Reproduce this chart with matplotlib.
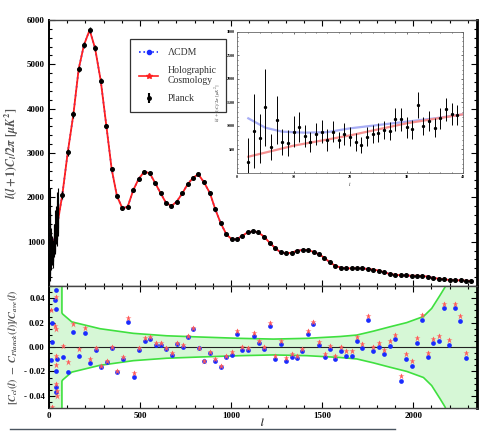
import matplotlib
matplotlib.use('Agg')
import matplotlib.pyplot as plt
from matplotlib.lines import Line2D
from matplotlib.ticker import MultipleLocator, FixedLocator
import numpy as np

# ---- data ----
# Planck binned points (main panel)
planck_l = [73, 103, 134, 163, 192, 223, 253, 284, 315, 344, 373, 403, 432, 463, 492,
            523, 553, 584, 613, 642, 672, 701, 732, 761, 791, 820, 851, 884, 913, 943,
            974, 1003, 1031, 1062, 1091, 1122, 1149, 1181, 1212, 1241, 1272, 1302, 1333,
            1362, 1393, 1424, 1453, 1483, 1512, 1541, 1572, 1602, 1631, 1662, 1691, 1720,
            1750, 1781, 1812, 1841, 1871, 1902, 1931, 1960, 1992, 2021, 2050, 2081, 2110,
            2140, 2171, 2200, 2230, 2261, 2290, 2319]
planck_D = [2053, 3016, 3874, 4896, 5437, 5775, 5363, 4632, 3610, 2640, 2030, 1753, 1789,
            2166, 2414, 2579, 2543, 2317, 2091, 1879, 1805, 1902, 2091, 2294, 2443, 2520,
            2339, 2091, 1730, 1415, 1166, 1054, 1054, 1135, 1211, 1234, 1211, 1112, 973,
            860, 756, 738, 751, 796, 812, 812, 767, 715, 638, 535, 458, 413, 399, 399, 399,
            399, 384, 372, 345, 309, 271, 255, 241, 237, 232, 232, 226, 210, 180, 165, 151,
            135, 129, 129, 120, 113]
planck_err = [90, 85, 80, 75, 70, 68, 65, 60, 55, 50, 45, 42, 40, 40, 38,
              36, 35, 34, 32, 30, 30, 30, 30, 30, 30, 28, 28, 28, 26, 25,
              25, 24, 24, 24, 23, 23, 22, 22, 22, 21, 20, 20, 20,
              20, 20, 20, 19, 19, 19, 18, 18, 18, 18, 18, 18, 18,
              18, 18, 18, 18, 18, 18, 18, 18, 18, 18, 18, 18, 18,
              18, 18, 18, 18, 18, 18, 18]

# Planck low-l points (inset and main panel)
low_l = list(range(2, 40))
low_D = [240, 894, 738, 1398, 560, 1128, 666, 645, 879, 985, 787, 666, 830, 879, 702,
         879, 702, 830, 773, 666, 596, 773, 830, 858, 915, 900, 1142, 1142, 972, 930,
         1447, 1000, 1114, 965, 1163, 1355, 1256, 1234]
low_err = [500, 790, 520, 820, 280, 510, 280, 280, 330, 320, 240, 210, 240, 240, 230,
           230, 180, 230, 200, 190, 180, 200, 200, 200, 190, 190, 250, 250, 220, 200,
           270, 200, 210, 200, 220, 250, 230, 210]
# extra unbinned points only seen in main panel
mid_l = [40, 41, 42, 43, 44, 45, 46, 47, 48, 49]
mid_D = [1300, 1450, 1200, 1550, 1400, 1700, 1350, 1600, 1750, 1500]
mid_err = [320, 350, 300, 380, 330, 420, 320, 400, 450, 380]

# theory curves at low l (inset)
holo_low_l = [2, 10, 20, 30, 40]
holo_low_D = [346, 581, 800, 1057, 1248]
lcdm_low_l = [2, 5, 8, 12, 16, 20, 25, 30, 35, 40]
lcdm_low_D = [1163, 964, 879, 858, 869, 950, 1021, 1092, 1163, 1248]

# residuals
res_l = [9, 15, 15, 33, 37, 38, 42, 38, 38, 40,
         75, 106, 134, 165, 196, 225, 256, 285, 316, 346, 375, 406, 436, 465, 496,
         525, 555, 586, 615, 645, 676, 705, 734, 765, 793, 824, 853, 882, 913, 943,
         972, 1003, 1032, 1062, 1093, 1124, 1153, 1183, 1214, 1243, 1272, 1303, 1332,
         1362, 1391, 1421, 1452, 1481, 1513, 1542, 1573, 1602, 1631, 1662, 1691, 1720,
         1751, 1781, 1810, 1841, 1870, 1900, 1931, 1960, 1991, 2020, 2049, 2080, 2109,
         2139, 2168, 2197, 2228, 2257, 2288]
res_lcdm = [-0.0106, 0.0044, 0.0199, 0.0384, 0.031, 0.047, -0.010, -0.020, -0.033, -0.037,
            -0.0079, -0.0207, 0.0125, -0.0073, 0.0112, -0.0128, -0.0024, -0.016, -0.012,
            -0.0005, -0.0207, -0.010, 0.0207, -0.0242, -0.0024, 0.0052, 0.0063, 0.0016,
            0.0014, -0.0019, -0.0063, 0.0024, 0.0003, 0.0079, 0.0144, -0.0011, -0.0117,
            -0.0049, -0.0112, -0.0166, -0.0084, -0.0068, 0.0106, -0.0024, -0.0027, 0.009,
            0.003, -0.0019, 0.0171, -0.010, 0.0024, -0.0114, -0.0084, -0.0092, -0.003,
            0.0106, 0.0188, 0.0014, -0.0084, -0.0016, -0.010, -0.003, -0.0071, -0.0071,
            0.0049, -0.0011, 0.022, -0.0033, 0.0003, -0.006, 0.0011, 0.0063, -0.0277,
            -0.0098, -0.0152, 0.0035, 0.022, -0.0079, 0.003, 0.0052, 0.0316, 0.0016,
            0.0316, 0.0212, -0.0087]
res_holo_l = [11, 15, 33, 37, 37, 38, 40, 38, 42, 44] + res_l[10:]
res_holo = [0.030, -0.049, 0.017, 0.015, 0.041, -0.0073, -0.0147, -0.030, -0.0405, -0.036,
            0.0008, -0.0125, 0.0188, -0.0019, 0.0152, -0.010, -0.0011, -0.0152, -0.0114,
            -0.0003, -0.0199, -0.0079, 0.0234, -0.0215, -0.0005, 0.0071, 0.0079, 0.0035,
            0.003, -0.0011, -0.0052, 0.0035, 0.0014, 0.009, 0.0152, -0.0005, -0.0112,
            -0.0044, -0.010, -0.0152, -0.0073, -0.0041, 0.013, 0.0003, -0.0005, 0.0112,
            0.0052, 0.0003, 0.0199, -0.0073, 0.0052, -0.0092, -0.006, -0.0073, -0.0014,
            0.013, 0.0207, 0.0038, -0.006, 0.0008, -0.0071, -0.0003, -0.0035, -0.0035,
            0.0084, 0.0024, 0.0253, -0.0003, 0.0035, -0.0024, 0.0049, 0.0098, -0.0237,
            -0.006, -0.0114, 0.0071, 0.0261, -0.0046, 0.0063, 0.009, 0.0351, 0.0057,
            0.0351, 0.0253, -0.0046]

# cosmic variance band half width
band_l = [2, 70, 71, 75, 125, 280, 463, 646, 829, 1049, 1232, 1415, 1598, 1690, 1781,
          1873, 1964, 2056, 2101, 2147, 2174, 2250, 2350]
band_w = [1.0, 1.0, 0.028, 0.027, 0.0206, 0.015, 0.0112, 0.0092, 0.0082, 0.0071, 0.0065,
          0.0071, 0.0086, 0.0098, 0.013, 0.0166, 0.020, 0.025, 0.0316, 0.0424, 0.049,
          0.08, 0.12]

# ---- figure ----
plt.rcParams['font.family'] = 'Liberation Serif'
plt.rcParams['mathtext.fontset'] = 'stix'
plt.rcParams['font.weight'] = 'bold'
fig = plt.figure(figsize=(4.91, 4.34), dpi=100)
ax1 = fig.add_axes([0.0998, 0.341, 0.8717, 0.6129])
ax2 = fig.add_axes([0.0998, 0.0599, 0.8717, 0.2811])
axin = fig.add_axes([0.4827, 0.6014, 0.4603, 0.3249])

blue = '#1a2cff'
red = '#ff2020'

# main panel theory curves
lcdm_l = lcdm_low_l + planck_l
lcdm_D = lcdm_low_D + planck_D
holo_l = holo_low_l + planck_l
holo_D = holo_low_D + planck_D
ax1.plot(lcdm_l, lcdm_D, color=blue, ls=':', lw=1.2)
ax1.plot(holo_l, holo_D, color=red, lw=1.3)
all_low_l = low_l + mid_l
ax1.errorbar(all_low_l, low_D + mid_D, yerr=low_err + mid_err, fmt='none',
             ecolor='k', elinewidth=0.8)
ax1.errorbar(planck_l, planck_D, yerr=planck_err, fmt='o', color='k', ms=2.6,
             elinewidth=0.9, capsize=0)

ax1.set_xlim(0, 2350)
ax1.set_ylim(0, 6000)
ax1.yaxis.set_major_locator(FixedLocator([1000, 2000, 3000, 4000, 5000, 6000]))
ax1.yaxis.set_minor_locator(MultipleLocator(200))
ax1.xaxis.set_major_locator(MultipleLocator(500))
ax1.xaxis.set_minor_locator(MultipleLocator(100))
ax1.tick_params(axis='x', labelbottom=False)
ax1.set_ylabel(r'$l(l+1)C_l/2\pi\ [\mu K^2]$', fontsize=8.5, color='#555555', labelpad=4)

handles = [Line2D([], [], color=blue, ls=':', lw=1.2, marker='o', ms=3,
                  markerfacecolor=blue),
           Line2D([], [], color=red, lw=1.2, marker='*', ms=4),
           ax1.errorbar([], [], yerr=[], fmt='o', color='k', ms=2.5)]
leg = ax1.legend(handles, ['ΛCDM', 'Holographic\nCosmology', 'Planck'],
                 loc='upper left', bbox_to_anchor=(0.178, 0.945),
                 prop={'size': 7, 'weight': 'normal'}, numpoints=1,
                 fancybox=False, edgecolor='#333333', framealpha=1,
                 handlelength=2.0, labelspacing=0.9, borderpad=0.9,
                 handletextpad=1.0)
leg.get_frame().set_linewidth(0.9)
for t in leg.get_texts():
    t.set_color('#333333')

# inset
axin.plot(lcdm_low_l, lcdm_low_D, color='#a8aef5', lw=1.6)
axin.plot(holo_low_l, holo_low_D, color='#f59090', lw=1.6)
axin.errorbar(low_l, low_D, yerr=low_err, fmt='o', color='k', ms=1.4,
              elinewidth=0.7, capsize=0)
axin.set_xlim(0, 40)
axin.set_ylim(0, 3000)
axin.xaxis.set_major_locator(MultipleLocator(10))
axin.xaxis.set_minor_locator(MultipleLocator(2))
axin.yaxis.set_major_locator(MultipleLocator(500))
axin.yaxis.set_minor_locator(MultipleLocator(100))
axin.tick_params(which='both', direction='in', top=True, right=True, labelsize=3,
                 length=1.5, width=0.4, pad=1.5)
axin.tick_params(which='minor', length=0.8)
axin.set_yticks([500, 1000, 1500, 2000, 2500, 3000])
axin.set_ylabel(r'$l(l+1)C_l/2\pi\ [\mu K^2]$', fontsize=3.5, color='#777777', labelpad=2)
axin.set_xlabel(r'$l$', fontsize=3.5, color='#555555', labelpad=1)
for s in axin.spines.values():
    s.set_linewidth(0.6)
    s.set_color('#666666')

# residual panel
bl = np.array(band_l)
bw = np.array(band_w)
ax2.fill_between(bl, -bw, bw, color='#d6f7d6', lw=0)
ax2.plot(bl, bw, color='#3fe03f', lw=1.2)
ax2.plot(bl, -bw, color='#3fe03f', lw=1.2)
ax2.axhline(0, color='#222222', lw=0.8)
ax2.plot(res_l, res_lcdm, 'o', color=blue, ms=3.4, mec='none')
ax2.plot(res_holo_l, res_holo, '*', color='#ff5a5a', ms=4.5, mec='none')
ax2.set_xlim(0, 2350)
ax2.set_ylim(-0.05, 0.05)
ax2.xaxis.set_major_locator(MultipleLocator(500))
ax2.xaxis.set_minor_locator(MultipleLocator(100))
ax2.yaxis.set_major_locator(FixedLocator([-0.04, -0.02, 0.0, 0.02, 0.04]))
ax2.yaxis.set_minor_locator(MultipleLocator(0.005))
ax2.set_yticklabels(['- 0.04', '- 0.02', '0.00', '0.02', '0.04'])
ax2.set_ylabel(r'$[C_{cl}(l)\ -\ C_{Planck}(l)]/C_{ave}(l)$', fontsize=7.5,
               color='#555555', labelpad=3)

for ax in (ax1, ax2):
    ax.tick_params(which='both', direction='in', top=True, right=True,
                   labelsize=6.5, width=0.8, pad=3)
    ax.tick_params(which='major', length=4)
    ax.tick_params(which='minor', length=2.5)
    ax.spines['left'].set_linewidth(1.4)
    ax.spines['right'].set_linewidth(2.0)
    ax.spines['top'].set_linewidth(1.0)
    ax.spines['bottom'].set_linewidth(1.0)
    ax.spines['top'].set_color('#444444')
    ax.spines['bottom'].set_color('#444444')

fig.text(262 / 491, 1 - 428 / 434, r'$l$', fontsize=7, color='#333333',
         ha='center', va='bottom')
fig.add_artist(Line2D([10 / 491, 395 / 491], [1 - 429 / 434, 1 - 429 / 434],
                      color='#4a5560', lw=1.0))

fig.savefig('out.png', dpi=100)
